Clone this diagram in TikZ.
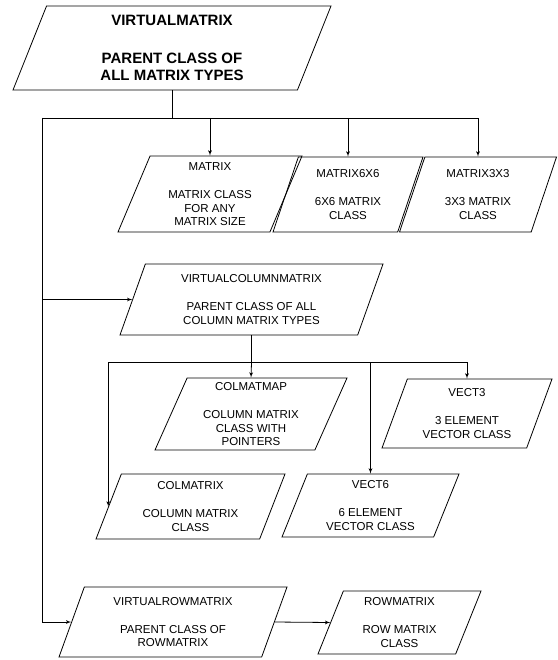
\documentclass[tikz,border=0pt]{standalone}
\usepackage{fontspec}
\setmainfont{Liberation Sans}
\usetikzlibrary{arrows,shapes.geometric}

\begin{document}
\begin{tikzpicture}[x=1pt,y=-1pt,>=latex',line width=0.8pt,
  class node/.style={trapezium,trapezium left angle=63,trapezium right angle=117,
    trapezium stretches body,draw,align=center,inner sep=0pt,
    font=\fontsize{11.5}{13.3}\selectfont},
  top node/.style={class node,font=\bfseries\fontsize{15}{17.7}\selectfont}]

  \useasboundingbox (0,0) rectangle (557,660);

  \node[top node,minimum width=318pt,minimum height=84pt] (vm) at (172,48)
    {VIRTUALMATRIX\\[20pt]PARENT CLASS OF\\ALL MATRIX TYPES};

  \node[class node,minimum width=184pt,minimum height=76pt] (mat) at (210,194)
    {MATRIX\\[15pt]MATRIX CLASS\\FOR ANY\\MATRIX SIZE};
  \node[class node,minimum width=150pt,minimum height=75pt] (mat6) at (348,194.5)
    {MATRIX6X6\\[15pt]6X6 MATRIX\\CLASS};
  \node[class node,minimum width=157pt,minimum height=75pt] (mat3) at (478,194.5)
    {MATRIX3X3\\[15pt]3X3 MATRIX\\CLASS};

  \node[class node,minimum width=263pt,minimum height=71pt] (vcol) at (251.5,299.5)
    {VIRTUALCOLUMNMATRIX\\[15pt]PARENT CLASS OF ALL\\COLUMN MATRIX TYPES};

  \node[class node,minimum width=192pt,minimum height=72pt] (cmap) at (251,414)
    {COLMATMAP\\[15pt]COLUMN MATRIX\\CLASS WITH\\POINTERS};
  \node[class node,minimum width=170pt,minimum height=69pt] (vec3) at (467,413.5)
    {VECT3\\[15pt]3 ELEMENT\\VECTOR CLASS};
  \node[class node,minimum width=189pt,minimum height=65pt] (cmat) at (190.5,506.5)
    {COLMATRIX\\[15pt]COLUMN MATRIX\\CLASS};
  \node[class node,minimum width=177pt,minimum height=63pt] (vec6) at (370.5,505.5)
    {VECT6\\[15pt]6 ELEMENT\\VECTOR CLASS};

  \node[class node,minimum width=228pt,minimum height=70pt] (vrow) at (173,622)
    {VIRTUALROWMATRIX\\[15pt]PARENT CLASS OF\\ROWMATRIX};
  \node[class node,minimum width=163pt,minimum height=63pt] (rmat) at (399.5,622.5)
    {ROWMATRIX\\[15pt]ROW MATRIX\\CLASS};

  % virtualmatrix children
  \coordinate (bus1) at (42,118);
  \draw (vm.south) |- (bus1);
  \draw[->] (bus1) -| (mat3.north);
  \draw[->] (mat.north |- bus1) -- (mat.north);
  \draw[->] (mat6.north |- bus1) -- (mat6.north);
  \draw[->] (bus1) |- (vcol.left side);
  \draw[->] (bus1) |- (vrow.left side);

  % column matrix children
  \draw (vcol.south) -- ++(0,27) coordinate (bus2);
  \draw[->] (bus2) -- (cmap.north);
  \draw[->] (bus2) -| (cmat.left side);
  \draw[->] (bus2) -| (vec3.north);
  \draw[->] (bus2 -| vec6.north) -- (vec6.north);

  % row matrix
  \draw[->] (vrow.right side) -- (rmat.left side);
\end{tikzpicture}
\end{document}
